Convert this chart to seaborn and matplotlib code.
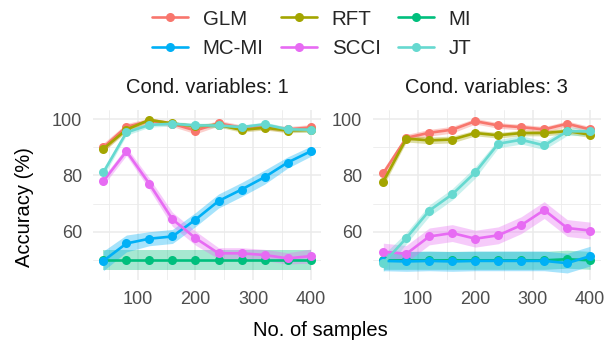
import numpy as np
import pandas as pd
import matplotlib
matplotlib.use("Agg")
import matplotlib.pyplot as plt
import seaborn as sns
from matplotlib.lines import Line2D

# ---------------- data ----------------
samples = [40, 80, 120, 160, 200, 240, 280, 320, 360, 400]
methods = ["GLM", "RFT", "MI", "MC-MI", "SCCI", "JT"]
panel_titles = ["Cond. variables: 1", "Cond. variables: 3"]
colors = ["#F8766D", "#A3A500", "#00BF7D", "#00B0F6", "#E76BF3", "#66D9D0"]

# panel 1 (1 conditioning variable): mean accuracy
glm_1 = [90.0, 97.3, 99.4, 98.4, 96.0, 98.6, 97.0, 97.4, 96.4, 97.1]
rft_1 = [89.5, 96.3, 99.8, 98.5, 97.5, 98.0, 96.2, 97.0, 96.0, 96.2]
mi_1 = [50.0, 50.0, 50.0, 50.0, 50.0, 50.0, 50.0, 50.0, 50.0, 50.0]
mcmi_1 = [49.6, 55.8, 57.5, 58.3, 64.3, 70.9, 75.0, 79.4, 84.6, 88.6]
scci_1 = [78.0, 88.6, 77.0, 64.4, 57.7, 52.3, 52.3, 51.7, 50.5, 51.3]
jt_1 = [81.1, 95.3, 98.0, 98.4, 97.8, 97.8, 97.2, 98.2, 96.4, 96.3]
# panel 1: half-width of the ribbons
glm_1_ci = [1.5, 1.2, 1.0, 1.0, 1.2, 1.0, 1.0, 1.0, 1.0, 1.0]
rft_1_ci = [1.0, 0.8, 0.6, 0.6, 0.8, 0.8, 0.8, 0.8, 0.8, 0.8]
mi_1_ci = [3.5, 3.5, 3.5, 3.5, 3.5, 3.5, 3.5, 3.5, 3.5, 3.5]
mcmi_1_ci = [3.5, 3.0, 2.5, 2.5, 2.5, 2.5, 2.5, 2.5, 2.0, 1.8]
scci_1_ci = [1.5, 1.5, 2.0, 2.5, 2.5, 2.0, 2.0, 2.0, 2.0, 2.5]
jt_1_ci = [1.5, 1.0, 0.8, 0.8, 0.8, 0.8, 0.8, 0.8, 0.8, 0.8]

# panel 2 (3 conditioning variables): mean accuracy
glm_3 = [80.8, 93.4, 95.2, 96.3, 99.3, 97.8, 97.2, 96.4, 98.4, 96.4]
rft_3 = [77.8, 93.1, 92.5, 92.8, 95.1, 94.3, 95.1, 95.1, 95.8, 94.5]
mi_3 = [49.8, 49.8, 49.8, 49.8, 49.8, 49.8, 49.8, 49.8, 50.2, 49.8]
mcmi_3 = [49.6, 49.4, 49.6, 49.4, 49.6, 49.6, 49.6, 49.6, 48.8, 51.3]
scci_3 = [52.9, 52.1, 58.3, 59.5, 57.5, 58.7, 62.3, 67.7, 61.3, 60.4]
jt_3 = [48.8, 57.7, 67.5, 73.3, 81.1, 91.3, 92.7, 90.7, 95.7, 95.7]
# panel 2: half-width of the ribbons
glm_3_ci = [1.5, 1.2, 1.2, 1.2, 1.0, 1.0, 1.0, 1.0, 1.0, 1.0]
rft_3_ci = [1.5, 1.2, 1.2, 1.2, 1.0, 1.0, 1.0, 1.0, 1.0, 1.0]
mi_3_ci = [3.2, 3.2, 3.2, 3.2, 3.2, 3.2, 3.2, 3.2, 3.2, 3.2]
mcmi_3_ci = [3.5, 3.5, 3.5, 3.5, 3.5, 3.5, 3.5, 3.5, 3.5, 3.5]
scci_3_ci = [3.0, 3.0, 3.0, 3.0, 3.0, 3.0, 3.0, 3.0, 3.0, 3.0]
jt_3_ci = [3.0, 2.0, 2.0, 2.0, 2.0, 1.5, 1.5, 1.5, 1.5, 1.5]

panel_means = [
    [glm_1, rft_1, mi_1, mcmi_1, scci_1, jt_1],
    [glm_3, rft_3, mi_3, mcmi_3, scci_3, jt_3],
]
panel_cis = [
    [glm_1_ci, rft_1_ci, mi_1_ci, mcmi_1_ci, scci_1_ci, jt_1_ci],
    [glm_3_ci, rft_3_ci, mi_3_ci, mcmi_3_ci, scci_3_ci, jt_3_ci],
]

# ---------------- plot ----------------
sns.set_theme(style="white")
plt.rcParams["font.family"] = ["Liberation Sans", "DejaVu Sans"]

fig = plt.figure(figsize=(6.14, 3.48), dpi=100)
W, H = 614.0, 348.0
ax_boxes = [
    [93 / W, 1 - 280 / H, 228 / W, 170 / H],
    [373 / W, 1 - 280 / H, 227.5 / W, 170 / H],
]
palette = dict(zip(methods, colors))
grid_c = "#EBEBEB"
tick_c = "#4D4D4D"

for p in range(2):
    ax = fig.add_axes(ax_boxes[p])
    rows = []
    for m, vals, cis in zip(methods, panel_means[p], panel_cis[p]):
        for x, v, c in zip(samples, vals, cis):
            rows.append({"samples": x, "acc": v, "lo": v - c, "hi": v + c, "method": m})
    df = pd.DataFrame(rows)
    for m in methods:
        d = df[df.method == m]
        ax.fill_between(d["samples"], d["lo"], d["hi"], color=palette[m],
                        alpha=0.35, linewidth=0, zorder=2)
    sns.lineplot(data=df, x="samples", y="acc", hue="method", hue_order=methods,
                 palette=palette, marker="o", markersize=6.5, markeredgewidth=0,
                 linewidth=1.9, ax=ax, legend=False, zorder=3, errorbar=None)
    ax.set_xlim(22, 418)
    ax.set_ylim(42.8, 103.3)
    ax.set_xticks([100, 200, 300, 400])
    ax.set_xticks([50, 150, 250, 350], minor=True)
    ax.set_yticks([60, 80, 100])
    ax.set_yticks([50, 70, 90], minor=True)
    ax.grid(True, which="major", color=grid_c, linewidth=1.1, zorder=0)
    ax.grid(True, which="minor", color=grid_c, linewidth=0.6, zorder=0)
    ax.set_axisbelow(True)
    for s in ax.spines.values():
        s.set_visible(False)
    ax.tick_params(which="both", length=0, labelsize=13, labelcolor=tick_c, pad=8)
    ax.set_xlabel("")
    ax.set_ylabel("")
    ax.set_title(panel_titles[p], fontsize=14.5, color="#1A1A1A", pad=12)

fig.text(320.5 / W, 1 - 331 / H, "No. of samples", ha="center", va="center",
         fontsize=14.5, color="black")
fig.text(25 / W, 1 - 207 / H, "Accuracy (%)", ha="center", va="center",
         rotation=90, fontsize=14.5, color="black")

# legend, ordered row-wise like the reference (matplotlib fills column-wise)
order = ["GLM", "MC-MI", "RFT", "SCCI", "MI", "JT"]
handles = [Line2D([0], [0], color=palette[m], marker="o", markersize=6.5,
                  markeredgewidth=0, linewidth=1.9) for m in order]
fig.legend(handles, order, loc="center", bbox_to_anchor=(311.5 / W, 1 - 33.7 / H),
           ncol=3, frameon=False, fontsize=14.8, handlelength=1.75,
           handletextpad=0.73, columnspacing=0.83, labelspacing=0.5)

fig.savefig("out.png", dpi=100)
